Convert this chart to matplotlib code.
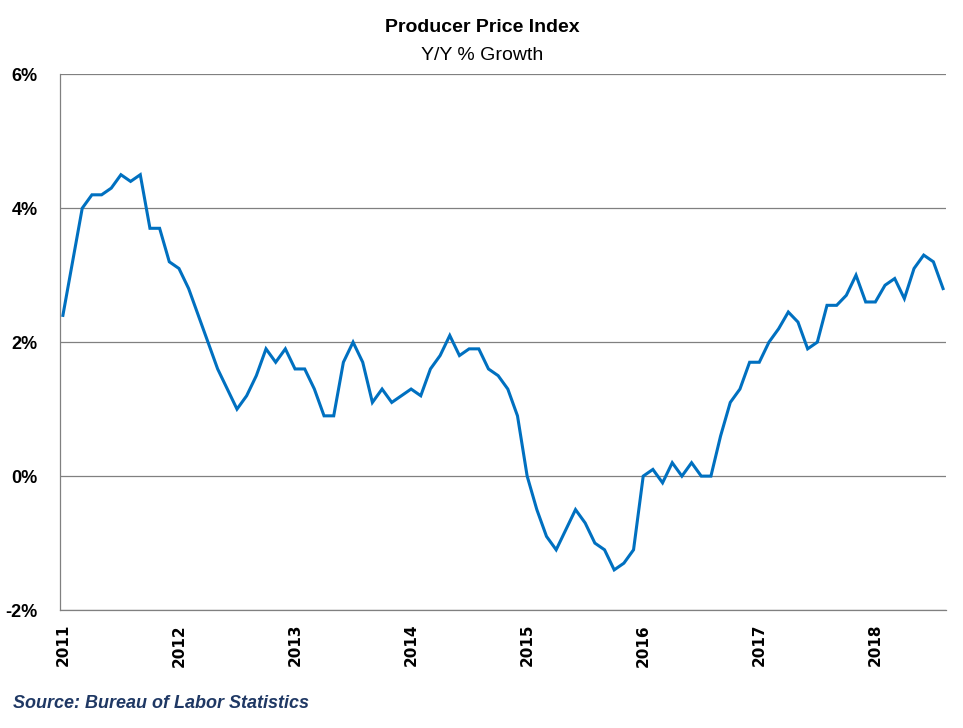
import matplotlib
matplotlib.use("Agg")
import matplotlib.pyplot as plt
import matplotlib.ticker as mticker
import numpy as np
import pandas as pd

# monthly PPI y/y % growth, Jan 2011 - Aug 2018
ppi = [
    2.4, 3.2, 4.0, 4.2, 4.2, 4.3, 4.5, 4.4, 4.5, 3.7, 3.7, 3.2,   # 2011
    3.1, 2.8, 2.4, 2.0, 1.6, 1.3, 1.0, 1.2, 1.5, 1.9, 1.7, 1.9,   # 2012
    1.6, 1.6, 1.3, 0.9, 0.9, 1.7, 2.0, 1.7, 1.1, 1.3, 1.1, 1.2,   # 2013
    1.3, 1.2, 1.6, 1.8, 2.1, 1.8, 1.9, 1.9, 1.6, 1.5, 1.3, 0.9,   # 2014
    0.0, -0.5, -0.9, -1.1, -0.8, -0.5, -0.7, -1.0, -1.1, -1.4, -1.3, -1.1,  # 2015
    0.0, 0.1, -0.1, 0.2, 0.0, 0.2, 0.0, 0.0, 0.6, 1.1, 1.3, 1.7,  # 2016
    1.7, 2.0, 2.2, 2.45, 2.3, 1.9, 2.0, 2.55, 2.55, 2.7, 3.0, 2.6,  # 2017
    2.6, 2.85, 2.95, 2.65, 3.1, 3.3, 3.2, 2.8,                    # 2018
]
dates = pd.date_range("2011-01-01", periods=len(ppi), freq="MS")
years = list(range(2011, 2019))
y_ticks = [-2, 0, 2, 4, 6]

narrow = ["Liberation Sans Narrow", "Liberation Sans", "DejaVu Sans"]

fig = plt.figure(figsize=(9.63, 7.28), dpi=100)
ax = fig.add_axes([0.0623, 0.162, 0.92, 0.736])

x = np.arange(len(ppi))
ax.plot(x, ppi, color="#0070C0", linewidth=2.2, solid_joinstyle="miter")

ax.set_xlim(-0.3, len(ppi) - 0.7)
ax.set_ylim(-2, 6)
ax.set_yticks(y_ticks)
ax.yaxis.set_major_formatter(mticker.FuncFormatter(lambda v, p: f"{v:.0f}%"))
ax.set_xticks([i * 12 for i in range(len(years))])
ax.set_xticklabels([str(y) for y in years], rotation=90, fontsize=11,
                   fontweight="bold", family="DejaVu Sans", va="top")

for lab in ax.get_yticklabels():
    lab.set_family(narrow)
    lab.set_fontweight("bold")
    lab.set_fontsize(13)

ax.tick_params(axis="both", length=0)
ax.tick_params(axis="y", pad=16)
ax.tick_params(axis="x", pad=10)

ax.grid(axis="y", color="#808080", linewidth=0.9)
ax.set_axisbelow(True)
for s in ["top", "right"]:
    ax.spines[s].set_visible(False)
for s in ["left", "bottom"]:
    ax.spines[s].set_color("#808080")
    ax.spines[s].set_linewidth(0.9)

fig.text(0.501, 0.962, "Producer Price Index", ha="center", va="center",
         fontsize=14, fontweight="bold", family=narrow)
fig.text(0.501, 0.924, "Y/Y % Growth", ha="center", va="center",
         fontsize=14, family=narrow)
fig.text(0.013, 0.034, "Source: Bureau of Labor Statistics", ha="left", va="center",
         fontsize=13, fontweight="bold", style="italic", color="#1F3864",
         family=narrow)

fig.savefig("out.png", dpi=100)
